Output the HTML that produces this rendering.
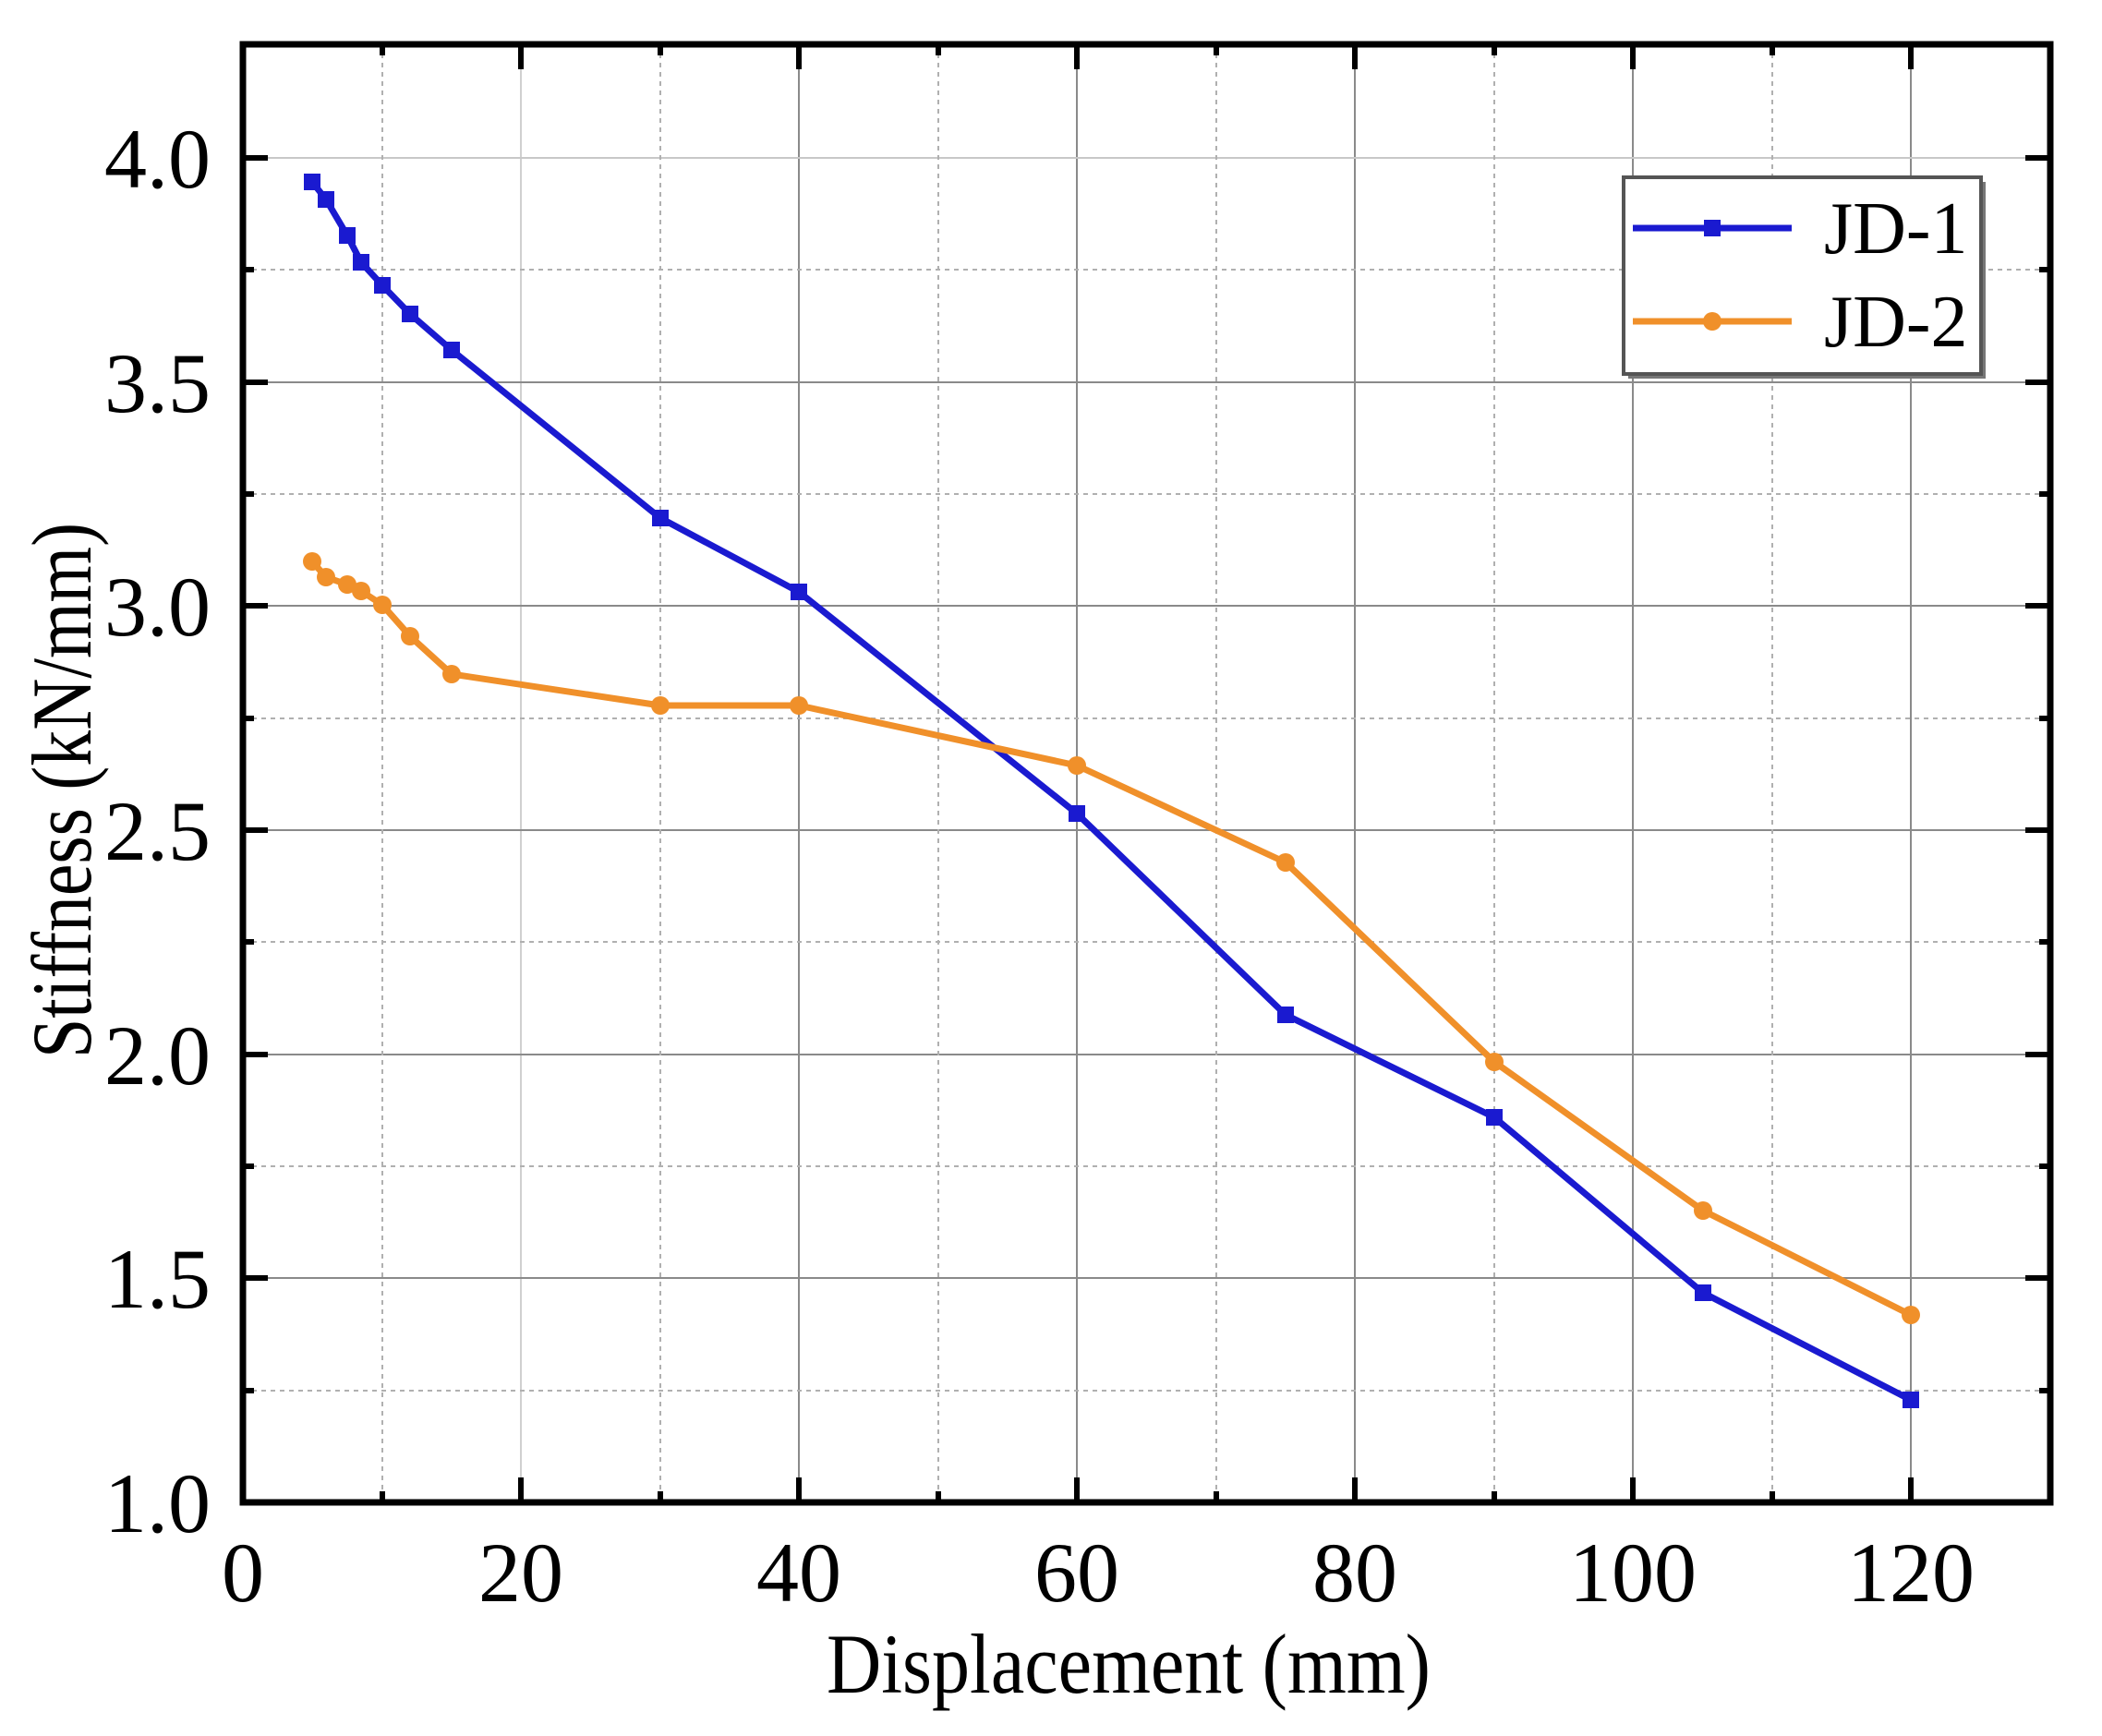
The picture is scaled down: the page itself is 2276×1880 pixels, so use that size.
<!DOCTYPE html>
<html><head><meta charset="utf-8"><style>html,body{margin:0;padding:0;background:#fff}svg{display:block}</style></head><body>
<svg width="2276" height="1880" viewBox="0 0 2276 1880" xmlns="http://www.w3.org/2000/svg" font-family="'Liberation Serif', serif">
<rect width="2276" height="1880" fill="#fff"/>
<g id="grid">
<g stroke="#8a8a8a" stroke-width="2">
<line x1="564" y1="48" x2="564" y2="1627" stroke="#d0d0d0"/>
<line x1="865" y1="48" x2="865" y2="1627"/>
<line x1="1166" y1="48" x2="1166" y2="1627"/>
<line x1="1467" y1="48" x2="1467" y2="1627"/>
<line x1="1768" y1="48" x2="1768" y2="1627"/>
<line x1="2069" y1="48" x2="2069" y2="1627"/>
<line x1="263" y1="171" x2="2220" y2="171" stroke="#c8c8c8"/>
<line x1="263" y1="414" x2="2220" y2="414"/>
<line x1="263" y1="656" x2="2220" y2="656"/>
<line x1="263" y1="899" x2="2220" y2="899"/>
<line x1="263" y1="1142" x2="2220" y2="1142"/>
<line x1="263" y1="1384" x2="2220" y2="1384"/>
</g>
<g stroke="#b0b0b0" stroke-width="2" stroke-dasharray="5,5">
<line x1="414" y1="48" x2="414" y2="1627"/>
<line x1="715" y1="48" x2="715" y2="1627"/>
<line x1="1016" y1="48" x2="1016" y2="1627"/>
<line x1="1317" y1="48" x2="1317" y2="1627"/>
<line x1="1618" y1="48" x2="1618" y2="1627"/>
<line x1="1919" y1="48" x2="1919" y2="1627"/>
<line x1="263" y1="292" x2="2220" y2="292"/>
<line x1="263" y1="535" x2="2220" y2="535"/>
<line x1="263" y1="778" x2="2220" y2="778"/>
<line x1="263" y1="1020" x2="2220" y2="1020"/>
<line x1="263" y1="1263" x2="2220" y2="1263"/>
<line x1="263" y1="1506" x2="2220" y2="1506"/>
</g>
</g>
<g fill="none" stroke-width="7" stroke-linejoin="round">
<polyline stroke="#1a1ad0" points="338,197 353,216 376,255 391,284 414,309 444,340 489,379 715,561 865,641 1166,881 1392,1099 1618,1210 1844,1400 2069,1516"/>
<polyline stroke="#f0902a" points="338,608 353,625 376,633 391,640 414,655 444,689 489,730 715,764 865,764 1166,829 1392,934 1618,1150 1844,1311 2069,1424"/>
</g>
<g fill="#1a1ad0">
<rect x="329" y="188" width="18" height="18"/><rect x="344" y="207" width="18" height="18"/><rect x="367" y="246" width="18" height="18"/><rect x="382" y="275" width="18" height="18"/><rect x="405" y="300" width="18" height="18"/><rect x="435" y="331" width="18" height="18"/><rect x="480" y="370" width="18" height="18"/><rect x="706" y="552" width="18" height="18"/><rect x="856" y="632" width="18" height="18"/><rect x="1157" y="872" width="18" height="18"/><rect x="1383" y="1090" width="18" height="18"/><rect x="1609" y="1201" width="18" height="18"/><rect x="1835" y="1391" width="18" height="18"/><rect x="2060" y="1507" width="18" height="18"/>
</g>
<g fill="#f0902a">
<circle cx="338" cy="608" r="10"/><circle cx="353" cy="625" r="10"/><circle cx="376" cy="633" r="10"/><circle cx="391" cy="640" r="10"/><circle cx="414" cy="655" r="10"/><circle cx="444" cy="689" r="10"/><circle cx="489" cy="730" r="10"/><circle cx="715" cy="764" r="10"/><circle cx="865" cy="764" r="10"/><circle cx="1166" cy="829" r="10"/><circle cx="1392" cy="934" r="10"/><circle cx="1618" cy="1150" r="10"/><circle cx="1844" cy="1311" r="10"/><circle cx="2069" cy="1424" r="10"/>
</g>
<rect x="1763" y="197" width="387" height="213" fill="#777"/>
<rect x="1758" y="192" width="387" height="213" fill="#fff" stroke="#555" stroke-width="4"/>
<line x1="1768" y1="247" x2="1940" y2="247" stroke="#1a1ad0" stroke-width="7"/>
<rect x="1845" y="238" width="18" height="18" fill="#1a1ad0"/>
<line x1="1768" y1="348" x2="1940" y2="348" stroke="#f0902a" stroke-width="7"/>
<circle cx="1854" cy="348" r="10" fill="#f0902a"/>
<text x="1975" y="274" font-size="80" fill="#000">JD-1</text>
<text x="1975" y="375" font-size="80" fill="#000">JD-2</text>
<g stroke="#000" stroke-width="6">
<path d="M564,1627v-27M865,1627v-27M1166,1627v-27M1467,1627v-27M1768,1627v-27M2069,1627v-27"/>
<path d="M414,1627v-12M715,1627v-12M1016,1627v-12M1317,1627v-12M1618,1627v-12M1919,1627v-12"/>
<path d="M564,48v27M865,48v27M1166,48v27M1467,48v27M1768,48v27M2069,48v27"/>
<path d="M414,48v12M715,48v12M1016,48v12M1317,48v12M1618,48v12M1919,48v12"/>
<path d="M263,171h27M263,414h27M263,656h27M263,899h27M263,1142h27M263,1384h27"/>
<path d="M263,292h12M263,535h12M263,778h12M263,1020h12M263,1263h12M263,1506h12"/>
<path d="M2220,171h-27M2220,414h-27M2220,656h-27M2220,899h-27M2220,1142h-27M2220,1384h-27"/>
<path d="M2220,292h-12M2220,535h-12M2220,778h-12M2220,1020h-12M2220,1263h-12M2220,1506h-12"/>
</g>
<rect x="263" y="48" width="1957" height="1579" fill="none" stroke="#000" stroke-width="7"/>
<g font-size="92" fill="#000" text-anchor="end">
<text x="228" y="203">4.0</text>
<text x="228" y="446">3.5</text>
<text x="228" y="688">3.0</text>
<text x="228" y="931">2.5</text>
<text x="228" y="1174">2.0</text>
<text x="228" y="1416">1.5</text>
<text x="228" y="1659">1.0</text>
</g>
<g font-size="92" fill="#000" text-anchor="middle">
<text x="263" y="1734">0</text>
<text x="564" y="1734">20</text>
<text x="865" y="1734">40</text>
<text x="1166" y="1734">60</text>
<text x="1467" y="1734">80</text>
<text x="1768" y="1734">100</text>
<text x="2069" y="1734">120</text>
</g>
<text x="895" y="1833" font-size="92" fill="#000" textLength="654" lengthAdjust="spacingAndGlyphs">Displacement (mm)</text>
<text transform="translate(98,1146) rotate(-90)" font-size="92" fill="#000" textLength="580" lengthAdjust="spacingAndGlyphs">Stiffness (kN/mm)</text>
</svg>
</body></html>
